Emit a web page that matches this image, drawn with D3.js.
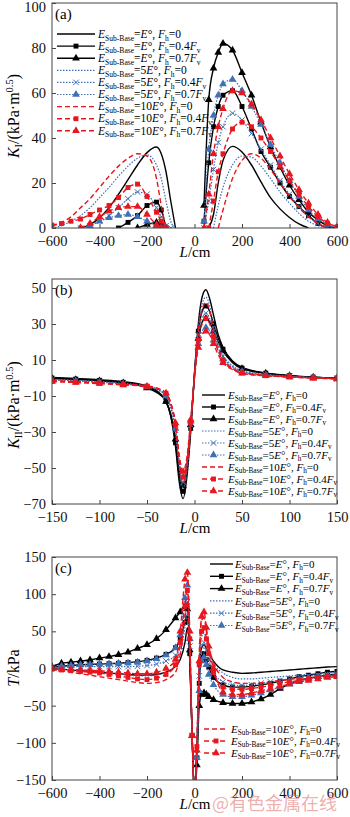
<!DOCTYPE html>
<html>
<head>
<meta charset="utf-8">
<script src="https://cdn.jsdelivr.net/npm/d3@7"></script>
<style>
  body { margin: 0; background: #fff; }
  svg { display: block; font-family: "Liberation Serif", "Times New Roman", serif; }
</style>
</head>
<body>
<svg id="chart" width="350" height="817"></svg>
<script>
const _ = null;

// ---- panel (a): K_I vs L ----
const La = [-600,-560,-520,-480,-440,-400,-360,-320,-280,-240,-200,-160,-140,-120,-100,-80,-40,0,40,60,80,100,120,160,200,240,280,320,360,400,440,480,520,560,600];
const aE1_0  = [_,_,_,0,1.5,4.5,9,15,21.5,28,33.5,36,33,25,12,0,_,_,_,0,6,20,30,36.3,33.8,28,20.5,13.5,8.5,4.7,1.8,0,_,_,_];
const aE1_04 = [_,_,_,_,_,_,_,0,2.5,5.5,10,11.5,8,0,_,_,_,_,3,29,45,54,59,61,54,44,34,27,20,14,9.5,5.5,2,0,_];
const aE1_07 = [_,_,_,_,_,_,_,_,_,0,1.5,2.5,2,0,_,_,_,_,10,57,71,78,82,79,69,59,47,36,27,19,12.5,7,3.5,1,0];
const aE5_0  = [0,1,3,5.5,9,13.5,18,23,27.5,31,32.5,28,22,12,3,0,_,_,_,_,0,10,18,28,32,31.5,27.5,22,16,11,6.5,3,1,0,_];
const aE5_04 = [_,_,_,0,1,3,5.5,9,13,16,15,9,5,1,0,_,_,_,0,12,26,38,45,51,48,42,35,28,21,15,9.5,5,2,0,_];
const aE5_07 = [_,_,_,0,1,3,4.5,5.5,6,5,3,1,0,_,_,_,_,_,3,35,50,59,64,66,61,54,46,37,29,21,14,8,4,1.5,0];
const aE10_0  = [1,2.5,5,9,13,18,23,27.5,31,33,32,22,10,0,_,_,_,_,_,_,_,0,8,22,30,33,31,26,20,14,9,5,2,0,_];
const aE10_04 = [1.3,2,3,4,6,8,10,13.5,18,19.5,14,7,3,0,_,_,_,_,_,0,12,25,33,44,47,45,40,34,27.5,21,15,9.5,5,2,0.5];
const aE10_07 = [_,_,_,0,2,5,7.5,9,9.5,9.5,6,1.5,0,_,_,_,_,_,0,15,33,45,53,61,60,55,48,40,32,24,17,11,6,2.5,0.5];

// ---- panel (b): K_II vs L ----
const Lb = [-150,-125,-100,-75,-50,-40,-30,-25,-20,-16,-12,-8,-4,0,4,8,12,16,20,25,30,40,50,75,100,125,150];
const bE1_0  = [0.3,-0.3,-1,-2,-4.5,-7,-13,-21,-38,-58,-67,-55,-30,3,30,45,49,44,35,24,17,9.5,6,2.8,1.3,0.5,0];
const bE1_04 = [0,-0.6,-1.3,-2.4,-5,-7.5,-13,-21,-36,-55,-63,-52,-28,2,26,37,40,37,30,22,16,9,5.5,2.7,1.3,0.5,0];
const bE1_07 = [-0.3,-0.9,-1.6,-2.7,-5.5,-8,-13,-20,-34,-52,-60,-49,-26,1,22,31,33,31,26,20,15,8.5,5.2,2.6,1.2,0.4,-0.1];
const bE5_0  = [-0.8,-1.3,-2,-3,-4.5,-6,-10,-16,-30,-50,-61,-52,-28,3,28,41,45,40,30,20,13,7,4,2,1,0.3,-0.2];
const bE5_04 = [-1,-1.5,-2.2,-3.2,-4.8,-6.3,-10,-16,-29,-48,-58,-49,-26,2,24,33,36,33,26,18,12,6.5,3.8,1.8,0.9,0.2,-0.3];
const bE5_07 = [-1.2,-1.7,-2.4,-3.4,-5,-6.5,-10,-16,-28,-46,-55,-46,-24,1,19,26,28,26,21,15,10.5,6,3.5,1.7,0.8,0.1,-0.4];
const bE10_0  = [-1.5,-2,-2.7,-3.5,-4.3,-5.5,-8.5,-14,-27,-47,-58,-50,-27,2,26,38,42,37,27,17,10.5,5.5,3,1.5,0.7,0.1,-0.3];
const bE10_04 = [-1.8,-2.3,-2.9,-3.7,-4.5,-5.7,-8.5,-14,-26,-45,-55,-47,-25,1,21,30,33,30,23,15,9.5,5,2.8,1.3,0.6,0,-0.4];
const bE10_07 = [-2,-2.5,-3.1,-3.9,-4.7,-5.9,-8.5,-14,-25,-43,-52,-44,-23,0,17,24,26,24,19,13,8.5,4.7,2.6,1.2,0.5,-0.1,-0.5];
const bMarkAt = [-150,-125,-100,-75,-50,-30,-20,-12,-4,4,12,20,30,50,75,100,125,150];

// ---- panel (c): T vs L ----
const Lc = [-600,-560,-520,-480,-440,-400,-360,-320,-280,-240,-200,-160,-120,-80,-60,-40,-30,-20,-10,0,10,20,30,40,50,60,80,120,160,200,240,280,320,360,400,440,480,520,560,600];
const cE1_0  = [0,-1,-2,-3,-4,-5,-6,-7,-8,-9,-9,-8,-5,3, 12,35,55,10,-90,-170,-110,0,28,32,27,20,10, -2,-5,-6.5,-6,-5,-4,-3,-2,-1,0,1,2,2.5];
const cE1_04 = [1,3,4,5,5.5,6,6.5,7,8,9,11,14,19,28, 40,62,68,20,-90,-170,-120,-20,15,20,12,2,-12, -22,-25,-25,-24,-22,-20,-17,-14,-11,-9,-7,-5,-4];
const cE1_07 = [2.5,7,8.5,10,11.5,14,16,18.5,22,27,32,40,52,68, 76,83,80,25,-90,-170,-130,-50,-35,-33,-35,-38,-42, -46,-47,-47,-45,-41,-35,-27,-21,-16,-13,-11,-9,-8];
const cE5_0  = [0,-1,-2,-3,-4,-5,-6,-7.5,-9,-10,-10,-9,-5,4, 20,55,75,20,-90,-170,-110,5,42,48,38,25,8, -6,-12,-14,-14,-13,-12,-11,-10,-9,-8,-7,-6,-5];
const cE5_04 = [0.5,1.5,2,2.5,2.5,2.5,2.5,2.5,2.5,3,4,6,10,18, 30,70,90,30,-90,-170,-115,-10,30,35,25,12,-5, -18,-22,-23,-22,-20,-18,-16,-14,-12,-10,-9,-8,-7];
const cE5_07 = [1,3,4,5,5.5,6,6.5,7,7.5,8.5,10,13,18,28, 45,95,112,40,-90,-170,-120,-30,10,15,5,-8,-22, -35,-38,-38,-36,-33,-29,-25,-20,-16,-13,-11,-10,-9];
const cE10_0  = [-1,-3,-5,-7,-9,-11,-13,-15,-17,-19,-20,-19,-15,-5, 20,70,90,30,-90,-170,-100,20,65,68,50,30,8, -12,-18,-20,-20,-19,-18,-16,-15,-13,-12,-11,-10,-9];
const cE10_04 = [-1,-2,-3,-4,-5,-6,-8,-10,-12,-14,-15,-13,-8,5, 35,85,105,40,-90,-170,-105,5,50,55,40,20,-5, -25,-28,-28,-27,-25,-23,-20,-18,-16,-14,-12,-11,-10];
const cE10_07 = [0,-1,-1.5,-2,-2.5,-3,-4,-5,-6,-7,-7,-5,0,12, 50,120,129,50,-90,-170,-110,10,70,76,55,30,0, -32,-35,-35,-33,-30,-27,-24,-21,-18,-16,-14,-12,-11];

// ---- series styling / legend text ----
const moduli = ['', '5', '10'];
const fhValues = ['0', '0.4', '0.7'];
const colors = ['#000', '#000', '#000', '#3f6fb5', '#3f6fb5', '#3f6fb5', '#e8161e', '#e8161e', '#e8161e'];
const dashes = [null, null, null, '1.5,1.5', '1.5,1.5', '1.5,1.5', '5,3', '5,3', '5,3'];
const widths = [1.4, 1.4, 1.4, 1.2, 1.2, 1.2, 1.4, 1.4, 1.4];
const markers = [null, 'square', 'triangle', null, 'times', 'triangle', null, 'square', 'triangle'];

const svg = d3.select('#chart');
const left = 52, right = 337;

function symbolPath(kind) {
  if (kind === 'square') return d3.symbol(d3.symbolSquare, 24)();
  if (kind === 'triangle') return d3.symbol(d3.symbolTriangle, 26)();
  return d3.symbol(d3.symbolTimes, 22)();
}

function drawMarker(sel, i) {
  sel.attr('d', symbolPath(markers[i]));
  if (markers[i] === 'times') {
    sel.attr('fill', 'none').attr('stroke', colors[i]).attr('stroke-width', 1);
  } else {
    sel.attr('fill', colors[i]).attr('stroke', 'none');
  }
}

function legendText(t, i, fs) {
  let sub = fs * 0.66, shift = fs * 0.25;
  t.append('tspan').attr('font-style', 'italic').text('E');
  t.append('tspan').attr('font-size', sub).attr('dy', shift).text('Sub-Base');
  t.append('tspan').attr('dy', -shift).text('=' + moduli[Math.floor(i / 3)]);
  t.append('tspan').attr('font-style', 'italic').text('E');
  t.append('tspan').text('°, ');
  t.append('tspan').attr('font-style', 'italic').text('F');
  t.append('tspan').attr('font-size', sub).attr('dy', shift).text('h');
  t.append('tspan').attr('dy', -shift).text('=' + fhValues[i % 3]);
  if (i % 3 > 0) {
    t.append('tspan').attr('font-style', 'italic').text('F');
    t.append('tspan').attr('font-size', sub).attr('dy', shift).text('v');
  }
}

function legendRow(g, i, x0, x1, tx, yy, fs) {
  g.append('line')
    .attr('x1', x0).attr('x2', x1).attr('y1', yy).attr('y2', yy)
    .attr('stroke', colors[i]).attr('stroke-width', widths[i])
    .attr('stroke-dasharray', dashes[i]);
  if (markers[i]) {
    g.append('path').attr('transform', `translate(${(x0 + x1) / 2},${yy})`).call(drawMarker, i);
  }
  let t = g.append('text').attr('x', tx).attr('y', yy + fs * 0.33).attr('font-size', fs);
  legendText(t, i, fs);
}

function drawPanel(p) {
  const g = svg.append('g');
  const x = d3.scaleLinear().domain(p.xDomain).range([left, right]);
  const y = d3.scaleLinear().domain(p.yDomain).range([p.bottom, p.top]);

  svg.append('clipPath').attr('id', 'clip-' + p.id)
    .append('rect').attr('x', left).attr('y', p.top)
    .attr('width', right - left).attr('height', p.bottom - p.top);

  const plot = g.append('g').attr('clip-path', `url(#clip-${p.id})`);
  const line = d3.line()
    .defined(d => d[1] != null)
    .x(d => x(d[0])).y(d => y(d[1]))
    .curve(d3.curveMonotoneX);

  p.series.forEach((vals, i) => {
    const pts = p.xs.map((l, j) => [l, vals[j]]);
    plot.append('path')
      .attr('d', line(pts))
      .attr('fill', 'none')
      .attr('stroke', colors[i])
      .attr('stroke-width', widths[i])
      .attr('stroke-dasharray', dashes[i]);
    if (markers[i]) {
      plot.selectAll(null)
        .data(pts.filter(d => d[1] != null && (!p.markAt || p.markAt.includes(d[0]))))
        .enter().append('path')
        .attr('transform', d => `translate(${x(d[0])},${y(d[1])})`)
        .call(drawMarker, i);
    }
  });

  // axes with inward ticks
  const xAxis = g.append('g')
    .attr('transform', `translate(0,${p.bottom})`)
    .call(d3.axisBottom(x).tickValues(p.xTicks).tickSize(-4).tickPadding(8));
  const yAxis = g.append('g')
    .attr('transform', `translate(${left},0)`)
    .call(d3.axisLeft(y).tickValues(p.yTicks).tickSize(-4).tickPadding(6));
  [xAxis, yAxis].forEach(a => {
    a.select('.domain').remove();
    a.selectAll('.tick line').attr('stroke', '#444');
    a.selectAll('.tick text').attr('font-size', 14.5).attr('fill', '#111')
      .attr('font-family', '"Liberation Serif", serif');
  });
  // keep the top label inside the picture
  yAxis.selectAll('.tick text').filter(d => d === p.yDomain[1] && y(d) < 8).attr('dy', '0.6em');

  g.append('rect')
    .attr('x', left).attr('y', p.top)
    .attr('width', right - left).attr('height', p.bottom - p.top)
    .attr('fill', 'none').attr('stroke', '#444').attr('stroke-width', 1);

  g.append('text').attr('x', 55).attr('y', p.top + 16).attr('font-size', 15).text(p.tag);

  const xl = g.append('text').attr('x', 195).attr('y', p.bottom + 29)
    .attr('text-anchor', 'middle').attr('font-size', 15);
  xl.append('tspan').attr('font-style', 'italic').text('L');
  xl.append('tspan').text('/cm');

  const yl = g.append('text')
    .attr('transform', `translate(19,${p.titleY}) rotate(-90)`)
    .attr('text-anchor', 'middle').attr('font-size', 16);
  p.yTitle(yl);

  p.legend.forEach(r => legendRow(g, r.i, r.x0, r.x1, r.tx, r.y, r.fs));
}

function kTitle(sub) {
  return t => {
    t.append('tspan').attr('font-style', 'italic').text('K');
    t.append('tspan').attr('font-size', 10.5).attr('dy', 3).text(sub);
    t.append('tspan').attr('dy', -3).text('/(kPa·m');
    t.append('tspan').attr('font-size', 10.5).attr('dy', -6).text('0.5');
    t.append('tspan').attr('dy', 6).text(')');
  };
}

const rowsA = d3.range(9).map(i => ({i, x0: 57, x1: 95, tx: 98, y: 34 + i * 12.1, fs: 11.5}));
const rowsB = d3.range(9).map(i => ({i, x0: 202, x1: 225, tx: 228, y: 395 + i * 12, fs: 11}));
const rowsC = d3.range(9).map(i => i < 6
  ? {i, x0: 210, x1: 233, tx: 235, y: 564 + i * 12.3, fs: 11}
  : {i, x0: 204, x1: 228, tx: 231, y: 729 + (i - 6) * 12, fs: 11});

drawPanel({
  id: 'a', tag: '(a)', top: 3, bottom: 228, titleY: 116,
  xDomain: [-600, 600], yDomain: [0, 100],
  xTicks: [-600, -400, -200, 0, 200, 400, 600], yTicks: [0, 20, 40, 60, 80, 100],
  xs: La,
  series: [aE1_0, aE1_04, aE1_07, aE5_0, aE5_04, aE5_07, aE10_0, aE10_04, aE10_07],
  yTitle: kTitle('I'), legend: rowsA
});

drawPanel({
  id: 'b', tag: '(b)', top: 279, bottom: 504, titleY: 405,
  xDomain: [-150, 150], yDomain: [-70, 55],
  xTicks: [-150, -100, -50, 0, 50, 100, 150], yTicks: [-70, -50, -30, -10, 10, 30, 50],
  xs: Lb, markAt: bMarkAt,
  series: [bE1_0, bE1_04, bE1_07, bE5_0, bE5_04, bE5_07, bE10_0, bE10_04, bE10_07],
  yTitle: kTitle('II'), legend: rowsB
});

drawPanel({
  id: 'c', tag: '(c)', top: 557, bottom: 780, titleY: 668,
  xDomain: [-600, 600], yDomain: [-150, 150],
  xTicks: [-600, -400, -200, 0, 200, 400, 600], yTicks: [-150, -100, -50, 0, 50, 100, 150],
  xs: Lc,
  series: [cE1_0, cE1_04, cE1_07, cE5_0, cE5_04, cE5_07, cE10_0, cE10_04, cE10_07],
  yTitle: t => {
    t.append('tspan').attr('font-style', 'italic').text('T');
    t.append('tspan').text('/kPa');
  },
  legend: rowsC
});

// watermark (sits over the tick labels, as in the source)
svg.append('text').attr('x', 212).attr('y', 810)
  .attr('font-family', '"Noto Sans CJK SC", sans-serif').attr('font-size', 18)
  .attr('fill', '#e06a6a').attr('fill-opacity', 0.55)
  .text('@有色金属在线');
</script>
</body>
</html>
